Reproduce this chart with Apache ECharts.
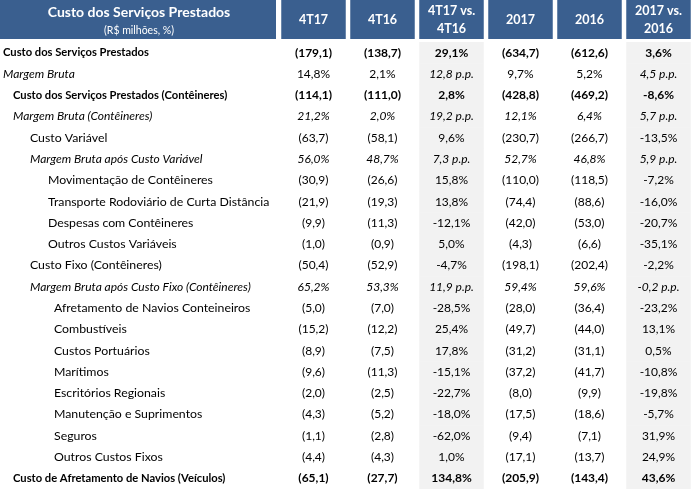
<!DOCTYPE html>
<html><head><meta charset="utf-8">
<script src="https://cdn.jsdelivr.net/npm/echarts@6/dist/echarts.min.js"></script>
<style>html,body{margin:0;padding:0;background:#fff}#c{width:693px;height:489px}</style>
</head><body><div id="c"></div>
<script>
// ---------- data ----------
const headerTitle = 'Custo dos Serviços Prestados';
const headerSubtitle = '(R$ milhões, %)';
const columns = ['4T17', '4T16', '4T17 vs.\n4T16', '2017', '2016', '2017 vs.\n2016'];
const rowLabels = [
  'Custo dos Serviços Prestados',
  'Margem Bruta',
  'Custo dos Serviços Prestados (Contêineres)',
  'Margem Bruta (Contêineres)',
  'Custo Variável',
  'Margem Bruta após Custo Variável',
  'Movimentação de Contêineres',
  'Transporte Rodoviário de Curta Distância',
  'Despesas com Contêineres',
  'Outros Custos Variáveis',
  'Custo Fixo (Contêineres)',
  'Margem Bruta após Custo Fixo (Contêineres)',
  'Afretamento de Navios Conteineiros',
  'Combustíveis',
  'Custos Portuários',
  'Marítimos',
  'Escritórios Regionais',
  'Manutenção e Suprimentos',
  'Seguros',
  'Outros Custos Fixos',
  'Custo de Afretamento de Navios (Veículos)'
];
const rowLevels = [0, 0, 1, 1, 2, 2, 3, 3, 3, 3, 2, 2, 4, 4, 4, 4, 4, 4, 4, 4, 1];
// 'cost' rows are amounts (shown in parentheses), 'margin' rows are percentages
const rowKinds = ['cost','margin','cost','margin','cost','margin','cost','cost','cost','cost',
                  'cost','margin','cost','cost','cost','cost','cost','cost','cost','cost','cost'];
// b = bold, i = italic, n = normal
const labelStyles = ['b','i','b','i','n','i','n','n','n','n','n','i','n','n','n','n','n','n','n','n','b'];
const valueStyles = ['b','n','b','i','n','i','n','n','n','n','n','i','n','n','n','n','n','n','n','n','b'];

const v4T17 = [-179.1, 14.8, -114.1, 21.2, -63.7, 56.0, -30.9, -21.9, -9.9, -1.0, -50.4, 65.2, -5.0, -15.2, -8.9, -9.6, -2.0, -4.3, -1.1, -4.4, -65.1];
const v4T16 = [-138.7, 2.1, -111.0, 2.0, -58.1, 48.7, -26.6, -19.3, -11.3, -0.9, -52.9, 53.3, -7.0, -12.2, -7.5, -11.3, -2.5, -5.2, -2.8, -4.3, -27.7];
const vQuarterChange = [29.1, 12.8, 2.8, 19.2, 9.6, 7.3, 15.8, 13.8, -12.1, 5.0, -4.7, 11.9, -28.5, 25.4, 17.8, -15.1, -22.7, -18.0, -62.0, 1.0, 134.8];
const v2017 = [-634.7, 9.7, -428.8, 12.1, -230.7, 52.7, -110.0, -74.4, -42.0, -4.3, -198.1, 59.4, -28.0, -49.7, -31.2, -37.2, -8.0, -17.5, -9.4, -17.1, -205.9];
const v2016 = [-612.6, 5.2, -469.2, 6.4, -266.7, 46.8, -118.5, -88.6, -53.0, -6.6, -202.4, 59.6, -36.4, -44.0, -31.1, -41.7, -9.9, -18.6, -7.1, -13.7, -143.4];
const vYearChange = [3.6, 4.5, -8.6, 5.7, -13.5, 5.9, -7.2, -16.0, -20.7, -35.1, -2.2, -0.2, -23.2, 13.1, 0.5, -10.8, -19.8, -5.7, 31.9, 24.9, 43.6];

const columnValues = [v4T17, v4T16, vQuarterChange, v2017, v2016, vYearChange];
const columnIsChange = [false, false, true, false, false, true];

// ---------- styles ----------
const FONT = 'Lato';
const HEADER_BG = '#3A5F8F';
const SHADE = '#F2F2F2';
const indentPx = [3, 13, 30, 48, 54];
const labelSize = { b: 11.2, n: 12.3, i: 12 };
const valueSize = { b: 12, n: 12, i: 12 };

function fmtNum(x) { return Math.abs(x).toFixed(1).replace('.', ','); }
function formatCell(col, row) {
  const v = columnValues[col][row];
  if (columnIsChange[col]) {
    if (rowKinds[row] === 'margin') return { text: (v < 0 ? '-' : '') + fmtNum(v) + ' p.p.', pp: true };
    return { text: (v < 0 ? '-' : '') + fmtNum(v) + '%', pp: false };
  }
  if (rowKinds[row] === 'margin') return { text: fmtNum(v) + '%', pp: false };
  return { text: v < 0 ? '(' + fmtNum(v) + ')' : fmtNum(v), pp: false };
}
function fontOf(style, size) {
  const w = style === 'b' ? 'bold ' : '';
  const s = style === 'i' ? 'italic ' : '';
  return s + w + size + 'px ' + FONT;
}

const rowCats = rowLabels.map((_, i) => 'r' + i);
const bodyCells = [];
columns.forEach((c, ci) => rowLabels.forEach((r, ri) => bodyCells.push([ci, ri])));
const shadeCells = bodyCells.filter(d => columnIsChange[d[0]]);

const chart = echarts.init(document.getElementById('c'), null, { renderer: 'canvas' });
const hidden = { show: false };
chart.setOption({
  animation: false,
  backgroundColor: '#fff',
  grid: [
    { left: 0, top: 0, width: 276, height: 39 },     // header label
    { left: 279, top: 0, width: 416, height: 39 },   // header numbers
    { left: 0, top: 42, width: 276, height: 448 },   // body labels
    { left: 279, top: 42, width: 416, height: 448 }  // body numbers
  ],
  xAxis: [
    { gridIndex: 0, type: 'category', data: [headerTitle], ...hidden },
    { gridIndex: 1, type: 'category', data: columns, ...hidden },
    { gridIndex: 2, type: 'category', data: ['label'], ...hidden },
    { gridIndex: 3, type: 'category', data: columns, ...hidden }
  ],
  yAxis: [
    { gridIndex: 0, type: 'category', data: ['h'], ...hidden },
    { gridIndex: 1, type: 'category', data: ['h'], ...hidden },
    { gridIndex: 2, type: 'category', data: rowCats, inverse: true, ...hidden },
    { gridIndex: 3, type: 'category', data: rowCats, inverse: true, ...hidden }
  ],
  series: [
    { // header title cell
      type: 'custom', xAxisIndex: 0, yAxisIndex: 0, data: [[0, 0]], silent: true,
      renderItem: (params, api) => {
        const cs = params.coordSys;
        const p = api.coord([0, 0]);
        return { type: 'group', children: [
          { type: 'rect', shape: { x: cs.x, y: cs.y, width: cs.width, height: cs.height }, style: { fill: HEADER_BG } },
          { type: 'text', x: p[0] + 1, y: cs.y + 12, style: { text: headerTitle, font: fontOf('b', 14), fill: '#fff', align: 'center', verticalAlign: 'middle' } },
          { type: 'text', x: p[0] + 1, y: cs.y + 31, style: { text: headerSubtitle, font: fontOf('n', 10.5), fill: '#fff', align: 'center', verticalAlign: 'middle' } }
        ] };
      }
    },
    { // header column cells
      type: 'custom', xAxisIndex: 1, yAxisIndex: 1, data: columns.map((c, i) => [i, 0]), silent: true,
      renderItem: (params, api) => {
        const cs = params.coordSys;
        const p = api.coord([api.value(0), 0]);
        const w = api.size([1, 1])[0] - 4.5;
        const label = columns[api.value(0)];
        return { type: 'group', children: [
          { type: 'rect', shape: { x: p[0] - w / 2, y: cs.y, width: w, height: cs.height }, style: { fill: HEADER_BG } },
          { type: 'text', x: p[0], y: p[1] + 0.5, style: { text: label, font: fontOf('b', 12.5), lineHeight: 18, fill: '#fff', align: 'center', verticalAlign: 'middle' } }
        ] };
      }
    },
    { // shaded change columns
      type: 'custom', xAxisIndex: 3, yAxisIndex: 3, data: shadeCells, silent: true,
      renderItem: (params, api) => {
        const p = api.coord([api.value(0), api.value(1)]);
        const s = api.size([1, 1]);
        const w = s[0] - 4.5;
        return { type: 'rect', shape: { x: p[0] - w / 2, y: p[1] - s[1] / 2, width: w, height: s[1] + 0.5 }, style: { fill: SHADE } };
      }
    },
    { // row labels
      type: 'custom', xAxisIndex: 2, yAxisIndex: 2, data: rowLabels.map((r, i) => [0, i]), silent: true,
      renderItem: (params, api) => {
        const cs = params.coordSys;
        const ri = api.value(1);
        const p = api.coord([0, ri]);
        const st = labelStyles[ri];
        return { type: 'text', x: cs.x + indentPx[rowLevels[ri]], y: p[1], style: { text: rowLabels[ri], font: fontOf(st, labelSize[st]), fill: '#000', align: 'left', verticalAlign: 'middle' } };
      }
    },
    { // numeric cells
      type: 'custom', xAxisIndex: 3, yAxisIndex: 3, data: bodyCells, silent: true,
      renderItem: (params, api) => {
        const ci = api.value(0), ri = api.value(1);
        const p = api.coord([ci, ri]);
        const f = formatCell(ci, ri);
        let st = valueStyles[ri];
        if (f.pp && st !== 'b') st = 'i';
        return { type: 'text', x: p[0], y: p[1], style: { text: f.text, font: fontOf(st, valueSize[st]), fill: '#000', align: 'center', verticalAlign: 'middle' } };
      }
    }
  ]
});
</script></body></html>
